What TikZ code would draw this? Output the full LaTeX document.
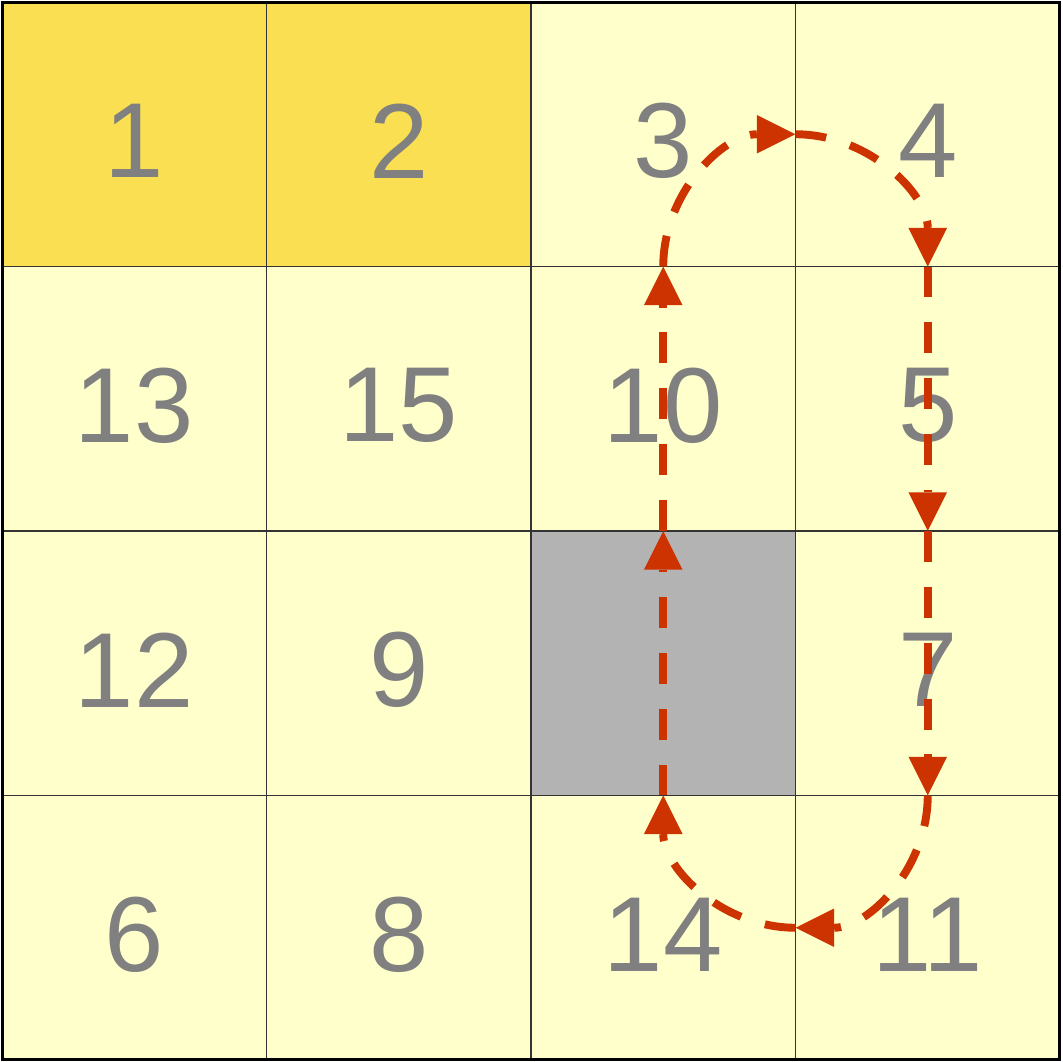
\documentclass[tikz,border=0pt]{standalone}
\usepackage{fontspec}
\setmainfont{Liberation Sans}
\usetikzlibrary{arrows.meta}
\definecolor{dkyel}{HTML}{F9DF51}
\definecolor{ltyel}{HTML}{FFFFCC}
\definecolor{gry}{HTML}{B3B3B3}
\definecolor{numc}{HTML}{808080}
\definecolor{arr}{HTML}{CC3300}
\begin{document}
\begin{tikzpicture}[x=0.02cm,y=-0.02cm,
  cell/.style={draw=black!80,line width=0.9pt,minimum size=5.29cm,inner sep=0pt,outer sep=0pt},
  num/.style={text=numc,font=\fontsize{60.7}{70}\selectfont,inner sep=0pt},
  flow/.style={draw=arr,line width=4.5pt,dash pattern=on 17.6pt off 14.2pt,
    -{Triangle[length=22pt,width=22pt,line width=0pt]}}]
\useasboundingbox (0,0) rectangle (1063,1062);
\foreach \r/\c/\t/\f in {1/1/1/dkyel,1/2/2/dkyel,1/3/3/ltyel,1/4/4/ltyel,
  2/1/13/ltyel,2/2/15/ltyel,2/3/10/ltyel,2/4/5/ltyel,
  3/1/12/ltyel,3/2/9/ltyel,3/3/{}/gry,3/4/7/ltyel,
  4/1/6/ltyel,4/2/8/ltyel,4/3/14/ltyel,4/4/11/ltyel}{
  \node[cell,fill=\f] (r\r\c) at ({2+(\c-0.5)*264.5},{2+(\r-0.5)*264.5}) {};
  \node[num] (t\r\c) at ([yshift=-0.14cm]r\r\c.center) {\t};
}
\draw[line width=1.7pt] (r11.north west) rectangle (r44.south east);
% loop
\draw[flow] (r33.south) -- (r33.north);
\draw[flow] (r33.north) -- (r23.north);
\draw[flow] (r23.north) .. controls +(0,-73) and +(-73,0) .. (r13.east);
\draw[flow] (r13.east) .. controls +(73,0) and +(0,-73) .. (r24.north);
\draw[flow] (r24.north) -- (r24.south);
\draw[flow] (r24.south) -- (r34.south);
\draw[flow] (r34.south) .. controls +(0,73) and +(73,0) .. (r44.west);
\draw[flow] (r44.west) .. controls +(-73,0) and +(0,73) .. (r33.south);
\end{tikzpicture}
\end{document}
